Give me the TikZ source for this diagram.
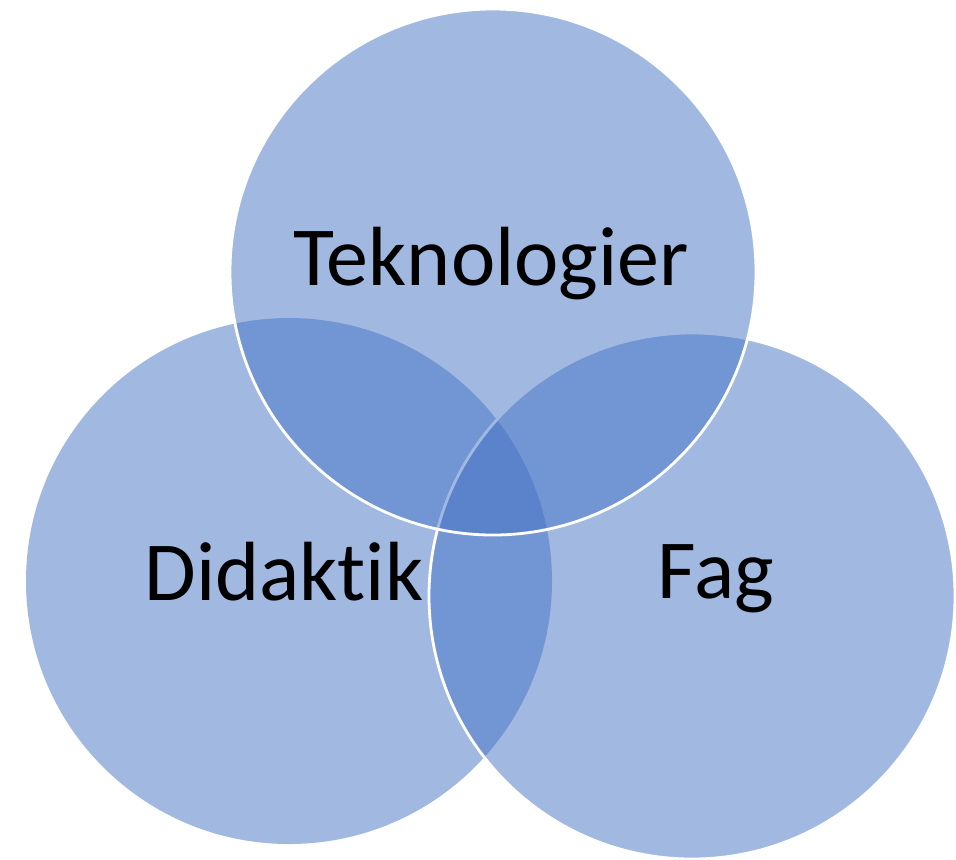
\documentclass[tikz,border=0pt]{standalone}
\usepackage{fontspec}
\setmainfont{Carlito}[Ligatures=NoCommon]
\usepackage{tikz}
\usetikzlibrary{positioning}
\definecolor{vennblue}{HTML}{4472C4}
\tikzset{
x=0.5pt, y=-0.5pt, % one unit is one pixel of the reference
set/.style={circle, inner sep=0pt, minimum size=263pt, fill=vennblue, fill opacity=0.5}, % the shared look of the three circles
rim/.style={draw=white, line width=1.4pt}, % white outline on the circles drawn last
label/.style={anchor=base, text=black, font=\fontsize{42}{50}\selectfont}, % the big black words
}
\begin{document}
\begin{tikzpicture}
    \useasboundingbox (0,0) rectangle (956,859);
    \node[set] (did) at (289,581) {};
    \node[set, rim] (fag) at (692,596) {};
    \node[set, rim] (tek) at (493,272) {};
    \node[label] (tektxt) at (491,285) {Teknologier};
    \node[label] (didtxt) at (284,600) {Didaktik};
    \node[label] (fagtxt) at (716,598) {Fag};
  \end{tikzpicture}
\end{document}
